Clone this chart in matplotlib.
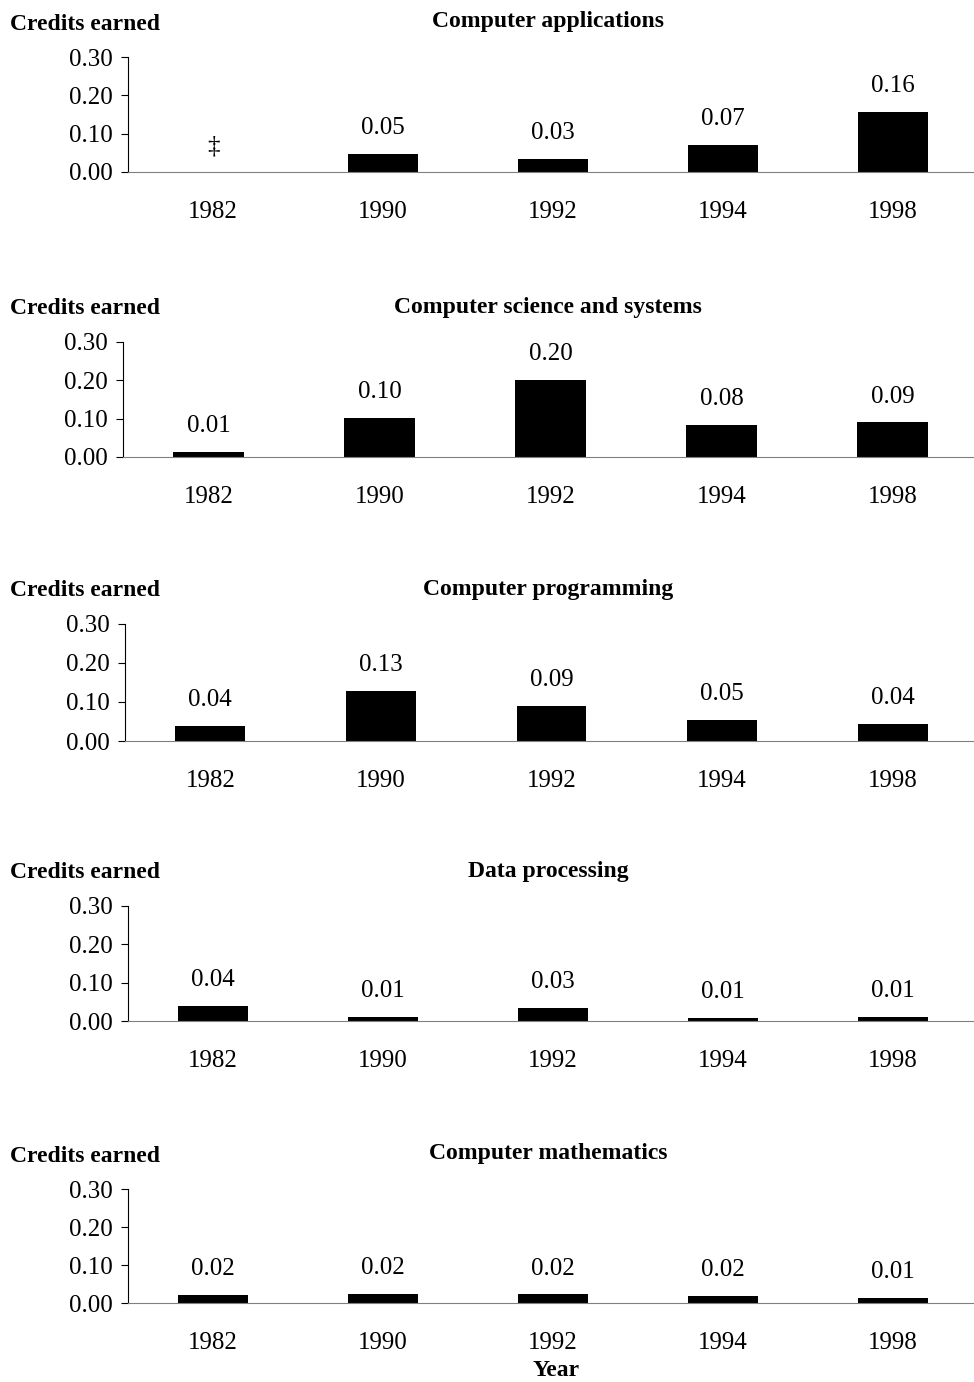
import numpy as np
import matplotlib.pyplot as plt

plt.rcParams['font.family'] = ['Liberation Serif', 'DejaVu Serif']

# Dati
anni = ['1982', '1990', '1992', '1994', '1998']
titoli = ['Computer applications', 'Computer science and systems',
          'Computer programming', 'Data processing', 'Computer mathematics']
applicazioni = [np.nan, 0.047, 0.034, 0.071, 0.157]
scienza = [0.013, 0.103, 0.202, 0.084, 0.090]
programmazione = [0.038, 0.128, 0.090, 0.054, 0.044]
elaborazione = [0.040, 0.010, 0.034, 0.008, 0.011]
matematica = [0.022, 0.024, 0.023, 0.019, 0.014]
serie = [applicazioni, scienza, programmazione, elaborazione, matematica]

fig = plt.figure(figsize=(9.74, 13.82), dpi=100)
W, H = 974, 1382

# posizioni in pixel (sinistra, alto asse, basso asse)
posizioni = [(128, 57, 172), (123, 342, 457), (125, 624, 741),
             (128, 906, 1021), (128, 1189, 1303)]
x = np.arange(len(anni))

for (sx, top, bot), tit, val in zip(posizioni, titoli, serie):
    ax = fig.add_axes([sx / W, 1 - bot / H, (978 - sx) / W, (bot - top) / H])
    v = np.nan_to_num(val)
    ax.bar(x, v, width=0.41, color='black')
    for xi, yi in zip(x, val):
        testo = '‡' if np.isnan(yi) else f'{yi:.2f}'
        ax.annotate(testo, (xi, 0 if np.isnan(yi) else yi), xytext=(0, 18.5),
                    textcoords='offset points', ha='center', va='center', fontsize=18)
    ax.set_xlim(-0.5, len(anni) - 0.5)
    ax.set_ylim(0, 0.3)
    ax.set_yticks([0, 0.1, 0.2, 0.3])
    ax.set_yticklabels(['0.00', '0.10', '0.20', '0.30'])
    ax.set_xticks(x)
    ax.set_xticklabels(anni)
    ax.tick_params(axis='x', length=0, pad=21, labelsize=18)
    ax.tick_params(axis='y', length=5, width=0.8, pad=6, labelsize=18)
    for lato in ['top', 'right']:
        ax.spines[lato].set_visible(False)
    ax.spines['bottom'].set_color('#808080')
    ax.spines['left'].set_linewidth(0.8)
    fig.text(548 / W, 1 - (top - 35) / H, tit, fontsize=17, fontweight='bold',
             ha='center', va='center')
    fig.text(10 / W, 1 - (top - 33) / H, 'Credits earned', fontsize=17,
             fontweight='bold', ha='left', va='center')

fig.text(556 / W, 1 - 1370 / H, 'Year', fontsize=17, fontweight='bold',
         ha='center', va='center')

plt.savefig('out.png', dpi=100)
